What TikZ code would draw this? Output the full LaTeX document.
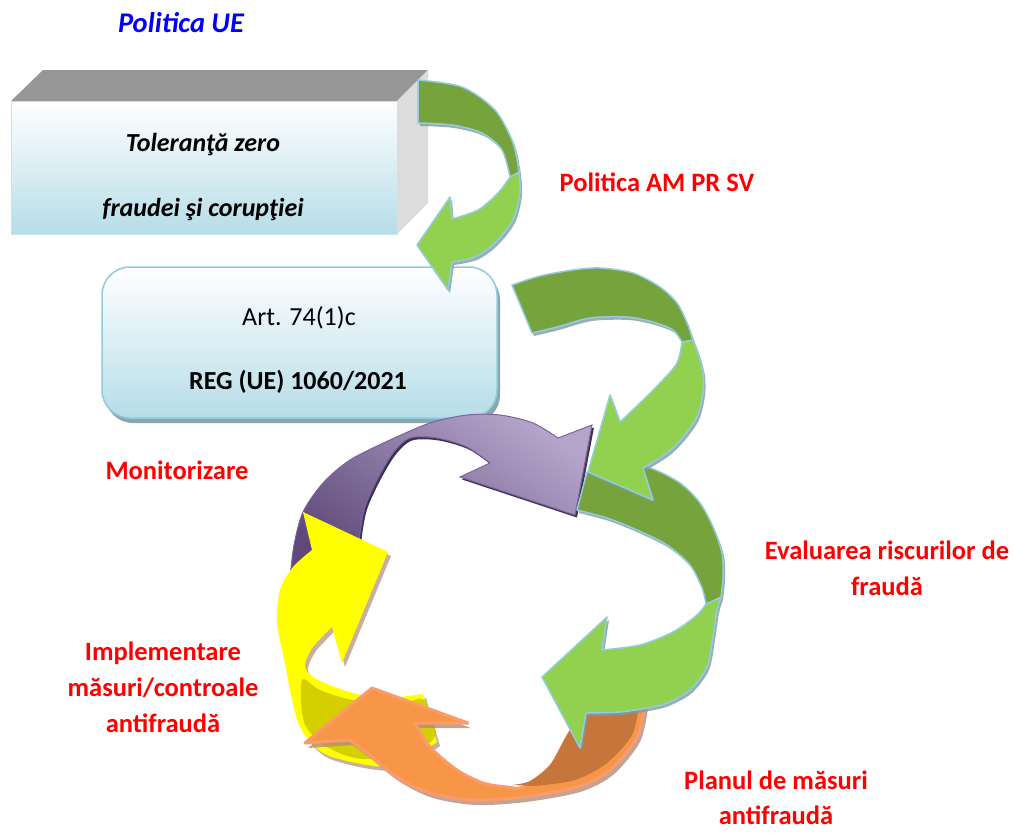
\documentclass[tikz,border=0pt]{standalone}
\usepackage{fontspec}
\setmainfont{Carlito}
\usetikzlibrary{shadows}
\definecolor{gdark}{HTML}{77A33D}
\definecolor{glight}{HTML}{92D050}
\definecolor{gline}{HTML}{93CDDD}
\definecolor{gshad}{HTML}{7E9BA3}
\definecolor{plight}{HTML}{B4A4C9}
\definecolor{pdark}{HTML}{5F497A}
\definecolor{pline}{HTML}{7D62A0}
\definecolor{pshad}{HTML}{3F3151}
\definecolor{ylw}{HTML}{FFFF00}
\definecolor{ydark}{HTML}{D6CF00}
\definecolor{ora}{HTML}{F79646}
\definecolor{oradark}{HTML}{C6763A}
\definecolor{oline}{HTML}{FB9B6C}
\definecolor{oshad}{HTML}{B48C78}
\definecolor{topgray}{HTML}{979797}
\definecolor{sidegray}{HTML}{DCDCDC}
\definecolor{boxblue}{HTML}{B6DDE8}
\definecolor{boxline}{HTML}{8FCBDB}
\definecolor{boxshad}{HTML}{8AA6AE}
\begin{document}
\begin{tikzpicture}[x=1pt,y=-1pt,
  lbl/.style={font=\fontsize{26.5}{36}\selectfont\bfseries, text=red, align=center},
  boxtxt/.style={font=\fontsize{26}{30}\selectfont},
  gpart/.style={draw=gline, line width=1.5pt, line join=round},
  gshadow/.style={fill=gshad, opacity=0.8},
]
\useasboundingbox (0,0) rectangle (1014,833);

% ---------- 3D box ----------
\fill[topgray] (11,101) -- (43,70) -- (428,70) -- (397,101) -- cycle;
\fill[sidegray] (397,101) -- (428,70) -- (428,203) -- (397,234) -- cycle;
\node[draw=boxline!50, line width=0.6pt, top color=white, bottom color=boxblue,
      minimum width=386pt, minimum height=133pt, inner sep=0pt] (front) at (204,167.5) {};
\node[boxtxt, font=\fontsize{26}{30}\selectfont\bfseries\itshape] (tol) at (203,145) {Toleranţă zero};
\node[boxtxt, font=\fontsize{26}{30}\selectfont\bfseries\itshape] (fra) at (203,210) {fraudei şi corupţiei};

% ---------- rounded box ----------
\node[draw=boxline, line width=1.5pt, rounded corners=28pt, top color=white, bottom color=boxblue,
      minimum width=395pt, minimum height=151pt, inner sep=0pt,
      drop shadow={shadow xshift=3pt, shadow yshift=-5pt, fill=boxshad, opacity=1}] (reg) at (299.5,342.5) {};
\node[boxtxt] (art) at (299,318) {Art. 74(1)c};
\node[boxtxt, font=\fontsize{26}{30}\selectfont\bfseries] (regt) at (298,382) {REG (UE) 1060/2021};

% ---------- green arrow 1 ----------
\def\gAdark{(418,80) -- plot[smooth] coordinates {(418,80) (462,87) (495,110) (513,143) (519,172)} -- (510,177) -- plot[smooth] coordinates {(510,177) (502,150) (482,133) (452,125) (418,123)} -- cycle}
\def\gAlight{(519,172) -- plot[smooth] coordinates {(519,172) (520,193) (513,220) (495,243) (475,257) (452,262)} -- (448,290) -- (417,245) -- (450,197) -- (452,219) -- plot[smooth] coordinates {(452,219) (478,210) (498,193) (510,177)} -- cycle}
\fill[gshadow, xshift=2pt, yshift=-3pt] \gAdark \gAlight;
\filldraw[gpart, fill=glight] \gAlight;
\filldraw[gpart, fill=gdark] \gAdark;

% ---------- purple arrow ----------
\def\purp{(290,578) -- plot[smooth] coordinates {(290,578) (294,545) (303,512) (323,483) (350,460) (390,440) (430,423) (467,415) (500,415) (533,423) (558,438)} -- (592,425) -- (575,515) -- (460,477) -- (490,463) -- plot[smooth] coordinates {(490,463) (467,447) (437,438) (410,438) (393,453) (377,480) (365,507) (360,533) (357,565)} -- cycle}
\fill[pshad, xshift=2pt, yshift=-2.5pt] \purp;
\draw[draw=pline, line width=1pt, top color=plight, bottom color=pdark, shading angle=-35] \purp;

% ---------- yellow arrow ----------
\def\yel{(303,512) -- (388,552) -- (342,663) -- (332,627) -- plot[smooth] coordinates {(332,627) (313,647) (305,665) (313,677) (343,690) (380,698) (423,694)} -- (437,742) -- plot[smooth] coordinates {(437,742) (400,765) (367,765) (323,753) (300,727) (290,690) (285,663) (277,623) (280,590) (293,567) (312,550)} -- cycle}
\fill[oshad, opacity=0.7, xshift=3pt, yshift=-4pt] \yel;
\fill[ylw] \yel;
\fill[ydark] plot[smooth cycle, tension=0.5] coordinates {(302,680) (320,690) (353,700) (403,703) (424,700) (433,740) (367,759) (325,746) (304,722)};

% ---------- orange arrow ----------
\def\ora{(372,688) -- (468,723) -- (415,723) -- plot[smooth] coordinates {(415,723) (430,747) (457,770) (483,783) (507,787) (523,787) (550,767) (567,737) (582,712)} -- (600,703) -- (645,703) -- plot[smooth] coordinates {(645,703) (637,737) (610,770) (577,787) (523,797) (473,800) (430,793) (397,777) (367,753) (350,740)} -- (305,743) -- cycle}
\fill[oshad, opacity=0.8, xshift=3pt, yshift=-5pt] \ora;
\filldraw[draw=oline, line width=3pt, line join=round, fill=ora] \ora;
\fill[oradark] (512,785) -- plot[smooth] coordinates {(512,785) (530,781) (550,765) (566,737) (582,713)} -- (600,705) -- (639,705) -- plot[smooth] coordinates {(639,705) (632,735) (607,763) (575,780) (535,786)} -- cycle;

% ---------- green arrow 3 ----------
\def\gCdark{(587,472) -- plot[smooth] coordinates {(587,472) (623,467) (650,468) (680,483) (700,503) (713,527) (722,553) (723,577) (721,597)} -- (706,604) -- plot[smooth] coordinates {(706,604) (702,588) (690,565) (667,545) (637,530) (607,518) (577,510)} -- cycle}
\def\gClight{(721,597) -- plot[smooth] coordinates {(721,597) (717,610) (713,637) (707,667) (690,690) (667,703) (647,708) (620,712) (586,713)} -- (580,748) -- (542,677) -- (607,617) -- (602,650) -- plot[smooth] coordinates {(602,650) (640,645) (673,632) (697,615) (706,604)} -- cycle}
\fill[gshadow, xshift=2pt, yshift=-3pt] \gCdark \gClight;
\filldraw[gpart, fill=glight] \gClight;
\filldraw[gpart, fill=gdark] \gCdark;

% ---------- green arrow 2 ----------
\def\gBdark{(512,285) -- plot[smooth] coordinates {(512,285) (540,276) (573,270) (600,268) (633,273) (660,287) (677,303) (687,323) (693,340)} -- (682,342) -- plot[smooth] coordinates {(682,342) (673,330) (653,322) (627,317) (590,318) (557,327) (532,333)} -- cycle}
\def\gBlight{(693,340) -- plot[smooth] coordinates {(693,340) (698,353) (703,373) (703,393) (697,417) (683,437) (667,453) (643,468)} -- (653,500) -- (588,472) -- (610,395) -- (620,422) -- plot[smooth] coordinates {(620,422) (640,403) (660,383) (677,363) (682,342)} -- cycle}
\fill[gshadow, xshift=2pt, yshift=-3pt] \gBdark \gBlight;
\filldraw[gpart, fill=glight] \gBlight;
\filldraw[gpart, fill=gdark] \gBdark;

% ---------- labels ----------
\node[lbl, text=blue, font=\fontsize{28.5}{36}\selectfont\bfseries\itshape] (ue) at (181,23) {Politica UE};
\node[lbl] (am) at (657,182) {Politica AM PR SV};
\node[lbl] (mon) at (177,470) {Monitorizare};
\node[lbl] (eval) at (887,568) {Evaluarea riscurilor de\\fraudă};
\node[lbl] (impl) at (163,687) {Implementare\\măsuri/controale\\antifraudă};
\node[lbl, font=\fontsize{26.5}{35}\selectfont\bfseries] (plan) at (776,798) {Planul de măsuri\\antifraudă};
\end{tikzpicture}
\end{document}
